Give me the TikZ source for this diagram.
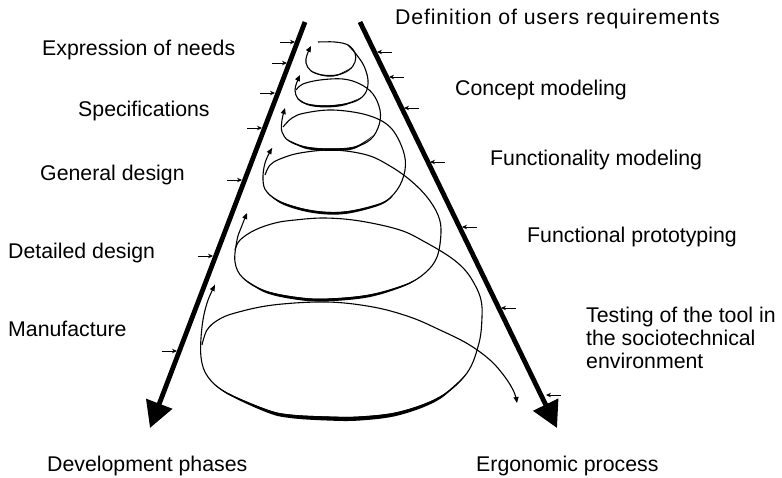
\documentclass[tikz,border=0pt]{standalone}
\usepackage{fontspec}
\setmainfont{Liberation Sans}
\usetikzlibrary{arrows.meta}
\begin{document}
\begin{tikzpicture}[x=1pt,y=-1pt,
  lbl/.style={font=\fontsize{21.3}{23}\selectfont, inner sep=0pt, anchor=base west},
  axisline/.style={line width=4.8pt, -{Triangle[length=26pt,width=27pt]}},
  tickarr/.style={line width=0.9pt, -{Stealth[length=5pt,width=4.5pt]}},
  spiral/.style={line width=1.1pt, -{Triangle[length=6pt,width=5pt]}},
  crescent/.style={fill=black, draw=none},
]
\useasboundingbox (0,0) rectangle (782,477);

% main axes
\coordinate (Ltop) at (305,22);
\coordinate (Ltip) at (150,428);
\coordinate (Rtop) at (360,22);
\coordinate (Rtip) at (557,428);
\draw[axisline] (Ltop) -- (Ltip);
\draw[axisline] (Rtop) -- (Rtip);

% small arrows on left axis
\foreach \i/\tx/\hx/\y in {1/280/295/42, 2/272/287/63, 3/260/275/93, 4/247/262/128, 5/227/242/180, 6/198/213/256, 7/162/177/351}{
  \coordinate (la\i) at (\tx,\y);
  \coordinate (lb\i) at (\hx,\y);
  \draw[tickarr] (la\i) -- (lb\i);
}
% small arrows on right axis
\foreach \i/\tx/\hx/\y in {1/392/377/52, 2/404/389/77, 3/419/404/108, 4/445/430/162, 5/477/462/227, 6/516/501/308, 7/561/546/395}{
  \coordinate (ra\i) at (\tx,\y);
  \coordinate (rb\i) at (\hx,\y);
  \draw[tickarr] (ra\i) -- (rb\i);
}

% spiral strokes
\draw[spiral] plot[smooth, tension=0.6] coordinates {(318,42) (335,42) (348,45) (355,53) (355,62) (349,70) (337,75) (322,75) (311,71) (306,63) (307,55) (311,46)};
\draw[spiral] plot[smooth, tension=0.6] coordinates {(348,45) (356,54) (364,66) (368,80) (366,92) (358,100) (345,104) (325,106) (307,104) (298,99) (295,90) (297,82) (300,75)};
\draw[spiral] plot[smooth, tension=0.6] coordinates {(296,90) (303,84) (320,80) (343,79) (360,84) (373,94) (380,110) (379,125) (371,139) (355,147) (330,149) (305,147) (289,141) (282,132) (282,120) (285,108)};
\draw[spiral] plot[smooth, tension=0.6] coordinates {(283,127) (292,118) (305,113) (333,110) (367,115) (390,127) (403,150) (405,170) (397,190) (380,204) (345,212) (313,211) (283,203) (267,192) (263,180) (265,163) (272,148)};
\draw[spiral] plot[smooth, tension=0.6] coordinates {(265,175) (270,165) (280,159) (300,153) (333,150) (367,155) (390,166) (410,180) (427,197) (438,215) (441,232) (437,257) (425,273) (405,285) (370,295) (330,299) (300,298) (265,291) (243,278) (235,262) (237,240) (241,228) (247,213)};
\draw[spiral] plot[smooth, tension=0.6] coordinates {(235,250) (240,240) (255,230) (275,223) (295,220) (325,218) (360,221) (400,230) (425,242) (450,257) (465,270) (475,285) (481,300) (482,317) (479,343) (467,373) (440,397) (400,412) (360,417) (327,417) (290,415) (267,410) (227,393) (208,377) (201,357) (202,327) (207,303) (215,285)};
\draw[spiral] plot[smooth, tension=0.6] coordinates {(202,345) (207,330) (218,320) (235,313) (273,305) (327,302) (373,307) (410,317) (440,330) (468,344) (490,360) (505,377) (514,392) (517,403)};

% thick front arcs (tapered crescents)
\fill[crescent] plot[smooth, tension=0.6] coordinates {(352,67) (337,75.8) (322,75.8) (310,70)}
  -- plot[smooth, tension=0.6] coordinates {(310,70) (322,74.6) (337,74.6) (352,67)} -- cycle;
\fill[crescent] plot[smooth, tension=0.6] coordinates {(362,97) (345,105.3) (325,107.4) (307,105) (297,97)}
  -- plot[smooth, tension=0.6] coordinates {(297,97) (307,103.6) (325,105.4) (345,103.6) (362,97)} -- cycle;
\fill[crescent] plot[smooth, tension=0.6] coordinates {(375,134) (355,148.6) (330,150.8) (305,148.6) (287,139)}
  -- plot[smooth, tension=0.6] coordinates {(287,139) (305,146.4) (330,148.4) (355,146.4) (375,134)} -- cycle;
\fill[crescent] plot[smooth, tension=0.6] coordinates {(393,196) (380,205.2) (345,214) (313,213) (283,204.6) (267,193)}
  -- plot[smooth, tension=0.6] coordinates {(267,193) (283,202.4) (313,210.4) (345,211.4) (380,203.2) (393,196)} -- cycle;
\fill[crescent] plot[smooth, tension=0.6] coordinates {(420,277) (405,286) (370,297) (330,301.2) (300,300.2) (265,292.6) (242,277)}
  -- plot[smooth, tension=0.6] coordinates {(242,277) (265,290.4) (300,297.4) (330,298.4) (370,294.4) (405,284.4) (420,277)} -- cycle;
\fill[crescent] plot[smooth, tension=0.6] coordinates {(467,373) (440,399) (400,415) (360,420.5) (327,420.5) (290,418) (267,412.5) (227,394) (210,380)}
  -- plot[smooth, tension=0.6] coordinates {(210,380) (227,392.5) (267,409.5) (290,414.5) (327,416.4) (360,416.4) (400,411.4) (440,396.4) (467,373)} -- cycle;

% labels
\node[lbl] (def)  at (395,24)  {\addfontfeatures{LetterSpace=4}Definition of users requirements};
\node[lbl] (expr) at (42,55)   {Expression of needs};
\node[lbl] (conc) at (455,95)  {Concept modeling};
\node[lbl] (spec) at (78,116)  {Specifications};
\node[lbl] (func) at (490,165) {Functionality modeling};
\node[lbl] (gen)  at (40,180)  {General design};
\node[lbl] (prot) at (527,242) {Functional prototyping};
\node[lbl] (det)  at (8,258)   {Detailed design};
\node[lbl] (man)  at (8,336)   {Manufacture};
\node[lbl, anchor=north west, align=left] (test) at (586,306.7) {Testing of the tool in\\the sociotechnical\\environment};
\node[lbl] (dev)  at (47,471)  {Development phases};
\node[lbl] (ergo) at (476,471) {Ergonomic process};
\end{tikzpicture}
\end{document}
